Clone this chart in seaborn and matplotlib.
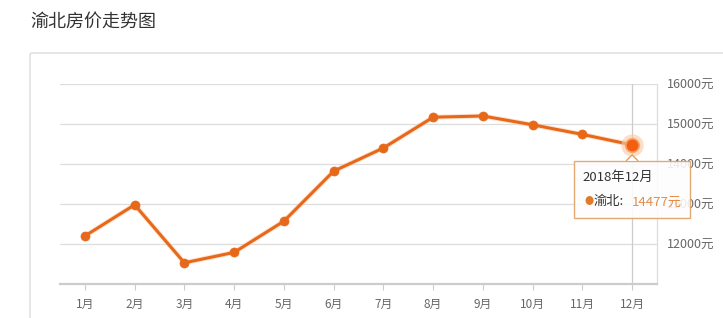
import matplotlib
matplotlib.use("Agg")
import matplotlib.pyplot as plt
import matplotlib.transforms as mtransforms
from matplotlib.patches import Rectangle, Polygon, FancyBboxPatch
import seaborn as sns
import pandas as pd
import numpy as np

months = ["1月", "2月", "3月", "4月", "5月", "6月", "7月", "8月", "9月", "10月", "11月", "12月"]
prices = [12200, 12980, 11530, 11790, 12570, 13820, 14400, 15170, 15200, 14980, 14740, 14477]
y_ticks = [12000, 13000, 14000, 15000, 16000]
y_tick_labels = ["12000元", "13000元", "14000元", "15000元", "16000元"]
title = "渝北房价走势图"
series_name = "渝北"
tooltip_title = "2018年12月"

sns.set_theme(style="white")
plt.rcParams["font.family"] = ["Noto Sans CJK SC", "DejaVu Sans"]

W, H = 723, 318
fig = plt.figure(figsize=(W / 100, H / 100), dpi=100)
fig.patch.set_facecolor("white")

# outer panel border
fig.patches.append(FancyBboxPatch((30 / W, -0.05), 1.0, (318 - 53) / H + 0.05,
                                  boxstyle="round,pad=0,rounding_size=0.004",
                                  transform=fig.transFigure, fill=False,
                                  edgecolor="#dcdcdc", linewidth=1.0))
fig.text(30 / W, 1 - 22 / H, title, fontsize=13, color="#333333", va="center", ha="left")

ax = fig.add_axes([60 / W, 34 / H, (657 - 60) / W, 200 / H])
df = pd.DataFrame({"month": months, "price": prices, "idx": np.arange(len(months))})

line_color = "#E8681A"
# faint glow under the line
ax.plot(df["idx"], df["price"], color="#F7C29A", linewidth=3.6, alpha=0.45, zorder=2, solid_capstyle="round")
sns.lineplot(data=df, x="idx", y="price", ax=ax, color=line_color, linewidth=2.2,
             marker="o", markersize=6.5, markeredgecolor=line_color, markeredgewidth=0.5, zorder=3)

ax.set_xlim(-0.5, len(months) - 0.5)
ax.set_ylim(11000, 16000)
ax.set_xlabel("")
ax.set_ylabel("")
ax.set_xticks(df["idx"])
ax.set_xticklabels(months, fontsize=8.5, color="#666666")
ax.yaxis.tick_right()
ax.set_yticks(y_ticks)
ax.set_yticklabels(y_tick_labels, fontsize=9, color="#666666")
ax.tick_params(axis="y", length=0, pad=7)
ax.tick_params(axis="x", length=4, width=0.8, color="#cccccc", pad=6, direction="out", bottom=True)
for t in y_ticks:
    ax.axhline(t, color="#dddddd", linewidth=0.9, zorder=0)
for s in ["top", "left"]:
    ax.spines[s].set_visible(False)
ax.spines["right"].set_color("#dddddd")
ax.spines["right"].set_linewidth(0.9)
ax.spines["bottom"].set_color("#cccccc")
ax.spines["bottom"].set_linewidth(1.6)

# axis pointer at the highlighted month
hi = len(months) - 1
ax.axvline(hi, color="#cccccc", linewidth=0.9, zorder=1)
ax.scatter([hi], [prices[hi]], s=260, color="#F9C9A3", alpha=0.6, zorder=4, linewidths=0)
ax.scatter([hi], [prices[hi]], s=95, color="#F2600F", zorder=5, edgecolor="#F7A46A", linewidths=1.2)

# tooltip anchored to the highlighted point (pixel offsets)
fig.canvas.draw()
px, py = ax.transData.transform((hi, prices[hi]))
tr = mtransforms.Affine2D().translate(px, py)
left, right, top, bottom = -58, 58, -16, -73
shadow = Rectangle((left + 1, bottom - 1), right - left, top - bottom, transform=tr,
                   facecolor="#000000", alpha=0.06, edgecolor="none", zorder=9)
fig.patches.append(shadow)
box = Rectangle((left, bottom), right - left, top - bottom, transform=tr,
                facecolor="white", alpha=0.88, edgecolor="#E0A060", linewidth=1.0, zorder=10)
fig.patches.append(box)
tri = Polygon([(-6, top), (0, -10), (6, top)], closed=False, transform=tr,
              facecolor="white", edgecolor="#E0A060", linewidth=1.0, zorder=11)
fig.patches.append(tri)
fig.text(px - 50, py - 33, tooltip_title, transform=None, fontsize=9.5, color="#333333",
         va="center", ha="left", zorder=12)
fig.text(px - 48, py - 57, "●", transform=None, fontsize=6.5, color="#E07A2A",
         va="center", ha="left", zorder=12)
fig.text(px - 39, py - 57, series_name + ":", transform=None, fontsize=9.5, color="#333333",
         va="center", ha="left", zorder=12)
fig.text(px, py - 57, f"{prices[hi]}元", transform=None, fontsize=9.5, color="#E07A2A",
         alpha=0.85, va="center", ha="left", zorder=12)

fig.savefig("out.png", dpi=100, facecolor="white")
